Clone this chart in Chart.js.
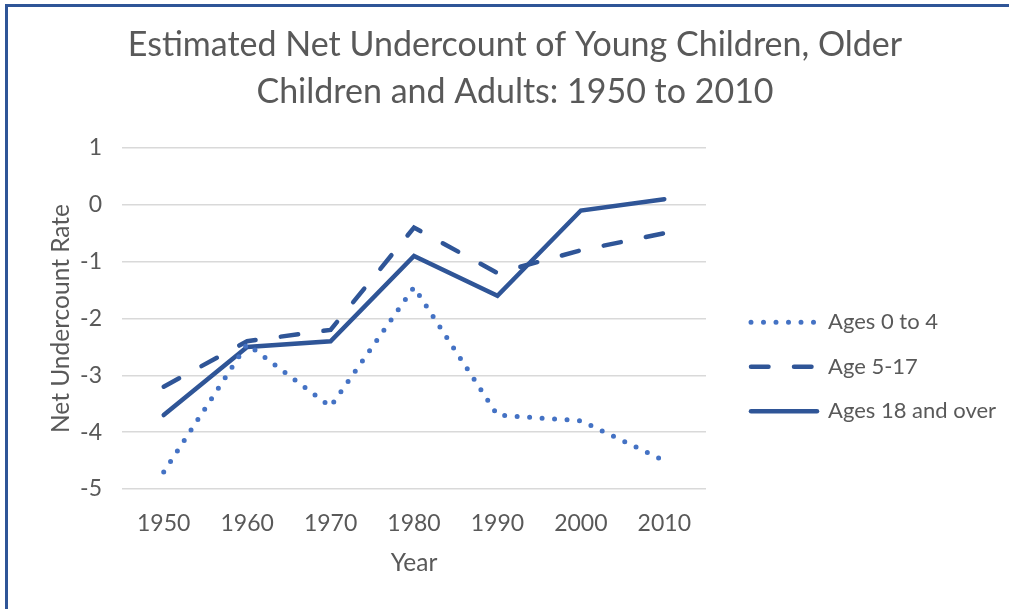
<!DOCTYPE html>
<html>
<head>
<meta charset="utf-8">
<title>Estimated Net Undercount</title>
<script src="https://cdn.jsdelivr.net/npm/chart.js@4/dist/chart.umd.min.js"></script>
<style>
  html, body { margin: 0; padding: 0; background: #fff; overflow: hidden; }
  #frame {
    position: absolute; left: 5px; top: 4px;
    width: 1100px; height: 700px;
    border: 3px solid #2F5597;
  }
  #wrap { position: absolute; left: 0; top: 0; width: 1009px; height: 609px; }
</style>
</head>
<body>
<div id="frame"></div>
<div id="wrap"><canvas id="line-chart"></canvas></div>
<script>
// data
var years = ['1950', '1960', '1970', '1980', '1990', '2000', '2010'];
var ages0to4 = [-4.7, -2.45, -3.55, -1.45, -3.7, -3.8, -4.5];
var ages5to17 = [-3.2, -2.4, -2.2, -0.4, -1.2, -0.8, -0.5];
var ages18up = [-3.7, -2.5, -2.4, -0.9, -1.6, -0.1, 0.1];
var seriesNames = ['Ages 0 to 4', 'Age 5-17', 'Ages 18 and over'];

var grey = '#595959';
var font = 'Lato, Carlito, Calibri, sans-serif';

// push the legend a bit away from the plot, like the excel original
var legendNudge = {
    id: 'legendNudge',
    beforeLayout: function (chart) {
        var lg = chart.legend;
        if (!lg || lg._nudged) return;
        var fit = lg.fit;
        lg.fit = function () {
            fit.call(this);
            this.width = 284;
        };
        lg._nudged = true;
    },
    afterLayout: function (chart) {
        var lg = chart.legend;
        lg.left += 22.5;
        lg.right += 22.5;
        lg.top += 78;
        lg.bottom += 78;
    }
};

new Chart(document.getElementById('line-chart'), {
    type: 'line',
    data: {
        labels: years,
        datasets: [{
            label: seriesNames[0],
            data: ages0to4,
            borderColor: '#4472C4',
            borderWidth: 5,
            borderDash: [0, 12.5],
            borderCapStyle: 'round',
            fill: false
        }, {
            label: seriesNames[1],
            data: ages5to17,
            borderColor: '#2F5597',
            borderWidth: 4.5,
            borderDash: [17.5, 25.5],
            borderCapStyle: 'round',
            fill: false
        }, {
            label: seriesNames[2],
            data: ages18up,
            borderColor: '#2F5597',
            borderWidth: 4.5,
            borderCapStyle: 'round',
            fill: false
        }]
    },
    options: {
        responsive: true,
        maintainAspectRatio: false,
        animation: false,
        elements: { point: { radius: 0, hoverRadius: 0 }, line: { tension: 0 } },
        layout: { padding: { left: 40, right: 19, top: 0, bottom: 31.3 } },
        plugins: {
            title: {
                display: true,
                text: ['Estimated Net Undercount of Young Children, Older', 'Children and Adults: 1950 to 2010'],
                color: grey,
                font: { family: font, size: 34, weight: 'normal', lineHeight: 47 / 34 },
                padding: { top: 21.7, bottom: 32.3 }
            },
            legend: {
                position: 'right',
                labels: {
                    color: grey,
                    font: { family: font, size: 22 },
                    padding: 22.5,
                    usePointStyle: true,
                    pointStyleWidth: 66,
                    generateLabels: function (chart) {
                        return chart.data.datasets.map(function (ds, i) {
                            return {
                                text: ds.label,
                                fillStyle: ds.borderColor,
                                strokeStyle: ds.borderColor,
                                lineWidth: ds.borderWidth,
                                lineDash: ds.borderDash || [],
                                lineCap: ds.borderCapStyle,
                                pointStyle: 'line',
                                fontColor: grey,
                                hidden: !chart.isDatasetVisible(i),
                                datasetIndex: i
                            };
                        });
                    }
                }
            },
            tooltip: { enabled: false }
        },
        scales: {
            x: {
                offset: true,
                afterFit: function (scale) { scale.height = 88.7; },
                grid: { display: false, drawTicks: false },
                border: { display: false },
                ticks: { color: grey, font: { family: font, size: 23 }, padding: 21.2 },
                title: {
                    display: true, text: 'Year', color: grey,
                    font: { family: font, size: 24.5 },
                    padding: { top: 0, bottom: 0 }
                }
            },
            y: {
                min: -5,
                max: 1,
                afterFit: function (scale) { scale.width = 82; },
                grid: { color: '#D9D9D9', lineWidth: 1.5, drawTicks: false },
                border: { display: false },
                ticks: { stepSize: 1, color: grey, font: { family: font, size: 23 }, padding: 20 },
                title: {
                    display: true, text: 'Net Undercount Rate', color: grey,
                    font: { family: font, size: 24.5 },
                    padding: { top: 6.3, bottom: 0 }
                }
            }
        }
    },
    plugins: [legendNudge]
});
</script>
</body>
</html>
